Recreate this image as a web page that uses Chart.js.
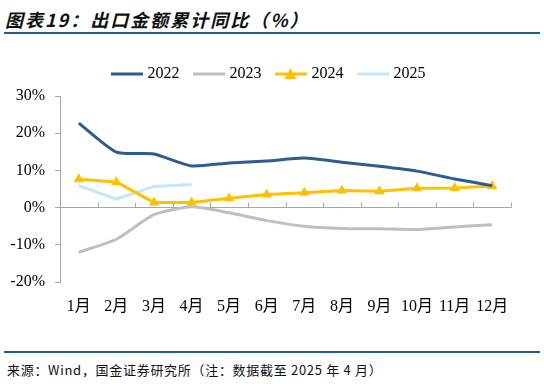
<!DOCTYPE html>
<html>
<head>
<meta charset="utf-8">
<script src="https://cdn.jsdelivr.net/npm/chart.js@4/dist/chart.umd.min.js"></script>
<style>
  body { margin: 0; width: 544px; height: 384px; background: #fff; position: relative; overflow: hidden; }
  .title { position: absolute; left: 5px; top: 6px; font-family: "Noto Sans CJK SC"; font-size: 18px; font-weight: bold; font-style: italic; letter-spacing: 2px; color: #111; }
  .rule { position: absolute; left: 4px; width: 536px; height: 2px; background: #1f5f8b; }
  .wrap { position: absolute; left: 0; top: 40px; width: 544px; height: 305px; }
  .source { position: absolute; left: 7px; top: 360px; font-family: "Noto Sans CJK SC"; font-size: 13px; letter-spacing: 0.7px; color: #111; }
</style>
</head>
<body>
<div class="title">图表19：出口金额累计同比（%）</div>
<div class="rule" style="top:32px"></div>
<div class="wrap"><canvas id="exportChart"></canvas></div>
<div class="rule" style="top:351px"></div>
<div class="source">来源：Wind，国金证券研究所（注：数据截至 2025 年 4 月）</div>
<script>
const months = ['1月', '2月', '3月', '4月', '5月', '6月', '7月', '8月', '9月', '10月', '11月', '12月'];
const y2022 = [22.7, 14.9, 14.4, 11.2, 12.0, 12.5, 13.3, 12.2, 11.1, 9.8, 7.7, 5.9];
const y2023 = [-12.0, -8.5, -1.9, 0.2, -1.4, -3.5, -5.0, -5.6, -5.7, -5.9, -5.2, -4.6];
const y2024 = [7.6, 6.9, 1.4, 1.4, 2.5, 3.5, 4.0, 4.6, 4.4, 5.2, 5.3, 5.8];
const y2025 = [5.9, 2.3, 5.7, 6.2];

const serif = "'Liberation Serif', 'Times New Roman', 'Noto Sans CJK SC', serif";

// petite image pour la légende : trait + triangle optionnel
function legendMark(color, tri) {
    const c = document.createElement('canvas');
    c.width = 32; c.height = 12;
    const g = c.getContext('2d');
    g.strokeStyle = color;
    g.lineWidth = 3;
    g.beginPath(); g.moveTo(0, 6); g.lineTo(32, 6); g.stroke();
    if (tri) {
        g.fillStyle = color;
        g.beginPath(); g.moveTo(16, 0); g.lineTo(22, 11); g.lineTo(10, 11); g.closePath(); g.fill();
    }
    return c;
}

// graduations vers le haut sur la ligne du zéro
const zeroTicks = {
    id: 'zeroTicks',
    afterDatasetsDraw(chart) {
        const x = chart.scales.x, y = chart.scales.y;
        const y0 = y.getPixelForValue(0);
        const ctx = chart.ctx;
        ctx.save();
        ctx.strokeStyle = '#a6a6a6';
        ctx.lineWidth = 1;
        ctx.beginPath();
        for (let i = 0; i <= months.length; i++) {
            const px = Math.round(x.getPixelForValue(i - 0.5)) + 0.5;
            ctx.moveTo(px, y0);
            ctx.lineTo(px, y0 - 5);
        }
        ctx.stroke();
        ctx.restore();
    }
};

// hauteur fixe de la légende + décalage horizontal
const legendSpace = {
    id: 'legendSpace',
    beforeInit(chart) {
        const fit = chart.legend.fit;
        chart.legend.fit = function () {
            fit.bind(chart.legend)();
            this.height = 46;
        };
    },
    afterLayout(chart) {
        chart.legend.left += 14;
        chart.legend.right += 14;
    }
};

const colors = ['#2f5b93', '#bfbfbf', '#ffc000', '#c5e7fa'];

new Chart(document.getElementById('exportChart'), {
    type: 'line',
    data: {
        labels: months,
        datasets: [
            { label: '2022', data: y2022, borderColor: colors[0], borderWidth: 3, pointRadius: 0, tension: 0.2 },
            { label: '2023', data: y2023, borderColor: colors[1], borderWidth: 3, pointRadius: 0, tension: 0.2 },
            { label: '2024', data: y2024, borderColor: colors[2], backgroundColor: colors[2], borderWidth: 3,
              pointStyle: 'triangle', pointRadius: 6, pointBorderWidth: 0 },
            { label: '2025', data: y2025, borderColor: colors[3], borderWidth: 3, pointRadius: 0 }
        ]
    },
    options: {
        responsive: true,
        maintainAspectRatio: false,
        animation: false,
        layout: { padding: { top: 10, right: 33, left: 0, bottom: 0 } },
        plugins: {
            tooltip: { enabled: false },
            legend: {
                position: 'top',
                labels: {
                    usePointStyle: true,
                    pointStyleWidth: 26,
                    padding: 16,
                    color: '#000',
                    font: { family: serif, size: 16 },
                    generateLabels(chart) {
                        const items = Chart.defaults.plugins.legend.labels.generateLabels(chart);
                        items.forEach((it, i) => { it.pointStyle = legendMark(colors[i], i === 2); });
                        return items;
                    }
                }
            }
        },
        scales: {
            x: {
                offset: true,
                grid: { display: false },
                border: { display: false },
                ticks: { color: '#000', padding: 7, maxRotation: 0, font: { family: serif, size: 16 } },
                afterFit(scale) { scale.height = 63; }
            },
            y: {
                min: -20, max: 30,
                ticks: { stepSize: 10, color: '#000', padding: 10, font: { family: serif, size: 16 },
                         callback: v => v + '%' },
                grid: {
                    tickLength: 5,
                    tickColor: '#a6a6a6',
                    color: c => c.tick && c.tick.value === 0 ? '#a6a6a6' : 'rgba(0,0,0,0)'
                },
                border: { color: '#a6a6a6' },
                afterFit(scale) { scale.width = 60; }
            }
        }
    },
    plugins: [zeroTicks, legendSpace]
});
</script>
</body>
</html>
